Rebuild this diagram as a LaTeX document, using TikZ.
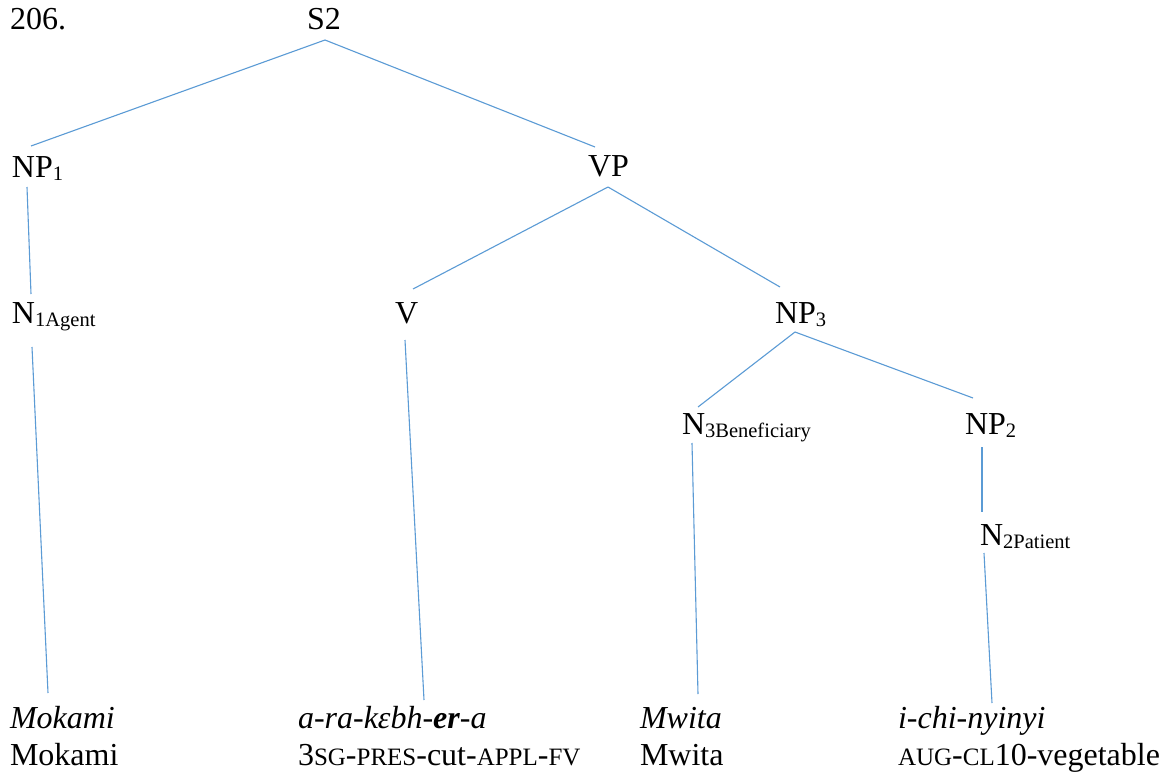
\documentclass[tikz,border=0pt]{standalone}
\usepackage{fontspec}
\setmainfont{Liberation Serif}
\definecolor{edgeblue}{HTML}{5B9BD5}
\newcommand{\lsub}[1]{\raisebox{-3pt}{\fontsize{20.5}{20.5}\selectfont #1}}
\newcommand{\fsc}[1]{{\fontsize{25}{25}\selectfont #1}}
\tikzset{
  lbl/.style={anchor=base west, inner sep=0pt, outer sep=0pt, font=\fontsize{32}{36}\selectfont},
  edge/.style={draw=edgeblue, line width=1.1pt}
}
\begin{document}
\begin{tikzpicture}[x=1pt,y=-1pt]
\useasboundingbox[fill=white] (0,0) rectangle (1173,776);
% labels
\node[lbl] (num) at (10,30) {206.};
\node[lbl] (S2) at (307,30) {S2};
\node[lbl] (NP1) at (12,177) {NP\lsub{1}};
\node[lbl] (VP) at (588,176) {VP};
\node[lbl] (N1) at (12,323) {N\lsub{1Agent}};
\node[lbl] (V) at (395,323) {V};
\node[lbl] (NP3) at (775,323) {NP\lsub{3}};
\node[lbl] (N3) at (682,434) {N\lsub{3Beneficiary}};
\node[lbl] (NP2) at (965,434) {NP\lsub{2}};
\node[lbl] (N2) at (980,545) {N\lsub{2Patient}};
% leaves
\node[lbl] (moki) at (10,728) {\itshape Mokami};
\node[lbl] (mokg) at (10,765) {Mokami};
\node[lbl] (arai) at (298,728) {\itshape a-ra-kɛbh-\textbf{er}-a};
\node[lbl] (arag) at (298,765) {3\fsc{SG}-\fsc{PRES}-cut-\fsc{APPL}-\fsc{FV}};
\node[lbl] (mwi) at (640,728) {\itshape Mwita};
\node[lbl] (mwg) at (640,765) {Mwita};
\node[lbl] (ichi) at (898,728) {\itshape i-chi-nyinyi};
\node[lbl] (ichg) at (898,765) {\fsc{AUG}-\fsc{CL}10-vegetable};
% edges
\draw[edge] ([xshift=18pt,yshift=-10pt]S2.base west) -- ([xshift=19pt,yshift=31pt]NP1.base west);
\draw[edge] ([xshift=18pt,yshift=-10pt]S2.base west) -- ([xshift=7pt,yshift=29pt]VP.base west);
\draw[edge] ([xshift=15pt,yshift=-10pt]NP1.base west) -- ([xshift=19pt,yshift=29pt]N1.base west);
\draw[edge] ([xshift=20pt,yshift=-11pt]VP.base west) -- ([xshift=18pt,yshift=34pt]V.base west);
\draw[edge] ([xshift=20pt,yshift=-11pt]VP.base west) -- ([xshift=5pt,yshift=36pt]NP3.base west);
\draw[edge] ([xshift=20pt,yshift=-24pt]N1.base west) -- ([xshift=38pt,yshift=35pt]moki.base west);
\draw[edge] ([xshift=10pt,yshift=-17pt]V.base west) -- ([xshift=126pt,yshift=28pt]arai.base west);
\draw[edge] ([xshift=20pt,yshift=-9pt]NP3.base west) -- ([xshift=16pt,yshift=27pt]N3.base west);
\draw[edge] ([xshift=20pt,yshift=-9pt]NP3.base west) -- ([xshift=8pt,yshift=36pt]NP2.base west);
\draw[edge] ([xshift=10pt,yshift=-9pt]N3.base west) -- ([xshift=58pt,yshift=34pt]mwi.base west);
\draw[edge] ([xshift=17pt,yshift=-13pt]NP2.base west) -- ([xshift=2pt,yshift=33pt]N2.base west);
\draw[edge] ([xshift=4pt,yshift=-8pt]N2.base west) -- ([xshift=94pt,yshift=25pt]ichi.base west);
\end{tikzpicture}
\end{document}
